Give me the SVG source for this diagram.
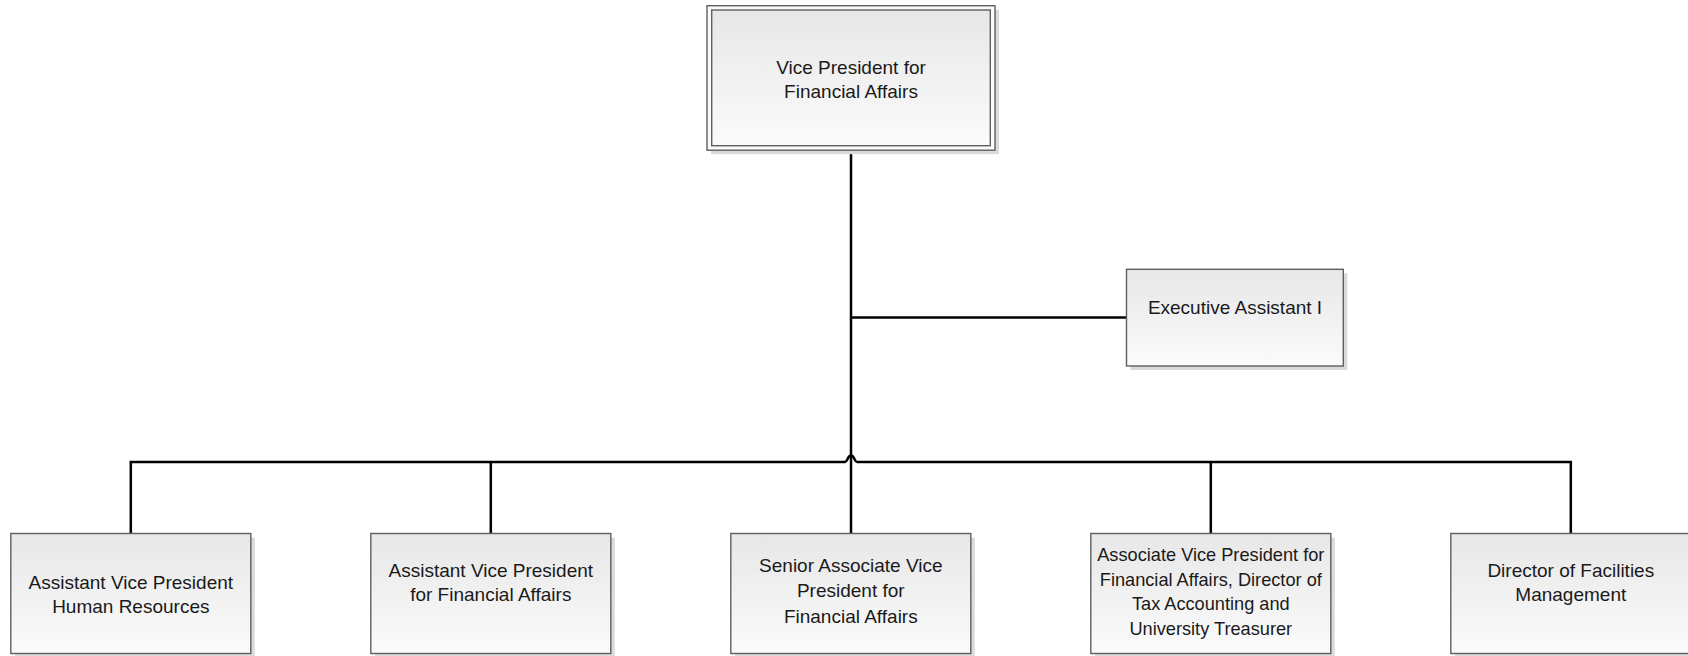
<svg xmlns="http://www.w3.org/2000/svg" width="1688" height="656" viewBox="0 0 1688 656">
<defs>
<linearGradient id="g" x1="0" y1="0" x2="0" y2="1">
<stop offset="0" stop-color="#e7e7e7"/>
<stop offset="1" stop-color="#fbfbfb"/>
</linearGradient>
</defs>
<style>
.sh{fill:#dadada}
.bx{fill:url(#g);stroke:#5f5f5f;stroke-width:1.4}
.ob{fill:#fafafa;stroke:#5f5f5f;stroke-width:1.4}
.t{font-family:"Liberation Sans",Arial,sans-serif;font-size:19px;fill:#1a1a1a;text-anchor:middle}
.s{font-size:18.2px}
.c{fill:none;stroke:#000;stroke-width:2.5}
</style>
<rect width="1688" height="656" fill="#fff"/>
<g id="connectors">
<path class="c" d="M851 150.5 V533.5"/>
<path class="c" d="M851 317.6 H1126.5"/>
<path class="c" d="M130.8 533.5 V462 H845 C847.5 462 847.5 455.5 851 455.5 C854.5 455.5 854.5 462 857 462 H1570.8 V533.5"/>
<path class="c" d="M490.8 462 V533.5"/>
<path class="c" d="M1210.8 462 V533.5"/>
</g>
<g id="vp">
<rect class="sh" x="711" y="9.7" width="288" height="144.5"/>
<rect class="ob" x="707" y="5.7" width="288" height="144.5"/>
<rect class="bx" x="711.7" y="10" width="278.6" height="135.7"/>
<text class="t" x="851" y="73.5">Vice President for</text>
<text class="t" x="851" y="97.5">Financial Affairs</text>
</g>
<g id="exec">
<rect class="sh" x="1130.5" y="273.3" width="216.8" height="96.7"/>
<rect class="bx" x="1126.5" y="269.3" width="216.8" height="96.7"/>
<text class="t" x="1235" y="314">Executive Assistant I</text>
</g>
<g id="avphr">
<rect class="sh" x="14.8" y="537.5" width="240" height="120"/>
<rect class="bx" x="10.8" y="533.5" width="240" height="120"/>
<text class="t" x="130.8" y="588.5">Assistant Vice President</text>
<text class="t" x="130.8" y="613">Human Resources</text>
</g>
<g id="avpfa">
<rect class="sh" x="374.8" y="537.5" width="240" height="120"/>
<rect class="bx" x="370.8" y="533.5" width="240" height="120"/>
<text class="t" x="490.8" y="576.5">Assistant Vice President</text>
<text class="t" x="490.8" y="601">for Financial Affairs</text>
</g>
<g id="savp">
<rect class="sh" x="734.8" y="537.5" width="240" height="120"/>
<rect class="bx" x="730.8" y="533.5" width="240" height="120"/>
<text class="t" x="850.8" y="572">Senior Associate Vice</text>
<text class="t" x="850.8" y="597">President for</text>
<text class="t" x="850.8" y="622.5">Financial Affairs</text>
</g>
<g id="avp">
<rect class="sh" x="1094.8" y="537.5" width="240" height="120"/>
<rect class="bx" x="1090.8" y="533.5" width="240" height="120"/>
<text class="t s" x="1210.8" y="561">Associate Vice President for</text>
<text class="t s" x="1210.8" y="585.5">Financial Affairs, Director of</text>
<text class="t s" x="1210.8" y="610">Tax Accounting and</text>
<text class="t s" x="1210.8" y="635">University Treasurer</text>
</g>
<g id="dfm">
<rect class="sh" x="1454.8" y="537.5" width="240" height="120"/>
<rect class="bx" x="1450.8" y="533.5" width="240" height="120"/>
<text class="t" x="1570.8" y="576.5">Director of Facilities</text>
<text class="t" x="1570.8" y="601">Management</text>
</g>
</svg>
